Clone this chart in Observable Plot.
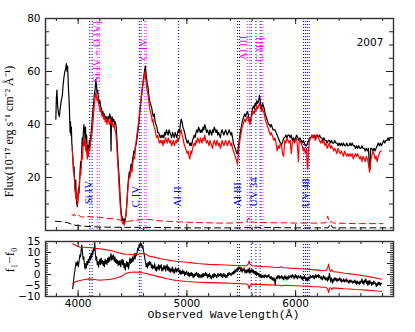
<!DOCTYPE html>
<html>
<head>
<meta charset="utf-8">
<script src="https://cdn.jsdelivr.net/npm/d3@7"></script>
<script src="https://cdn.jsdelivr.net/npm/@observablehq/plot@0.6"></script>
<style>
  html, body { margin: 0; padding: 0; background: #fff; }
  #chart { position: relative; width: 415px; height: 332px; }
  #chart svg { display: block; }
</style>
</head>
<body>
<div id="chart"></div>
<script>
// ---------------- DATA ----------------
const xDomain = [3700, 6900];
const topYDomain = [0, 80];
const botYDomain = [-10, 15];
const xMajorTicks = [4000, 5000, 6000];
const topYMajorTicks = [20, 40, 60, 80];
const botYMajorTicks = [-10, -5, 0, 5, 10, 15];
const yearLabel = "2007";
const yearPos = [6684, 70.9];

// black spectrum [wavelength, flux]
const blackSpec = [[3795,42],[3800,50],[3805,53],[3812,47],[3820,44],[3828,43],[3835,46],[3845,49],[3855,51],[3862,55],[3870,58],[3878,60],[3885,61],[3892,63],[3898,60],[3903,62],[3908,57],[3913,52],[3918,48],[3922,43],[3926,37],[3930,41],[3934,36],[3938,39],[3942,33],[3948,30],[3953,26],[3958,22],[3963,24],[3968,18],[3973,15],[3978,19],[3983,12],[3988,10],[3993,9],[3998,13],[4003,16],[4008,14],[4013,18],[4018,22],[4023,26],[4028,24],[4033,30],[4038,35],[4043,32],[4048,37],[4053,40],[4058,38],[4063,35],[4068,39],[4073,33],[4078,36],[4083,31],[4088,28],[4093,32],[4098,30],[4103,34],[4110,32],[4117,36],[4123,38],[4130,42],[4137,46],[4143,48],[4150,52],[4156,53],[4162,57],[4168,55],[4174,52],[4180,53],[4186,50],[4193,48],[4200,49],[4207,47],[4214,46],[4221,44],[4228,45],[4235,43],[4242,44],[4250,42],[4258,43],[4266,41],[4275,43],[4283,42],[4290,44],[4297,43],[4303,30],[4306,41],[4312,43],[4320,41],[4328,42],[4335,40],[4342,41],[4350,39],[4356,35],[4362,30],[4368,26],[4374,22],[4380,18],[4386,13],[4392,9],[4398,6],[4404,5],[4410,4],[4416,3.5],[4422,4.5],[4428,3],[4434,4],[4440,6],[4446,9],[4452,13],[4458,17],[4464,20],[4470,22],[4476,21],[4482,24],[4488,25],[4494,23],[4500,27],[4506,28],[4512,30],[4518,29],[4524,31],[4530,32],[4536,33],[4545,36],[4552,38],[4560,41],[4568,45],[4576,48],[4584,51],[4592,54],[4600,57],[4607,59],[4613,61],[4619,62],[4625,59],[4631,57],[4637,55],[4643,54],[4650,51],[4657,49],[4664,48],[4671,47],[4678,46],[4685,44],[4692,43],[4700,44],[4708,41],[4716,40],[4724,39],[4732,37],[4740,37],[4748,36],[4756,35],[4764,36],[4772,35],[4780,36],[4788,35],[4796,37],[4804,36],[4812,38],[4820,37],[4828,36],[4836,38],[4844,37],[4852,36],[4860,35],[4868,37],[4876,36],[4884,35],[4892,37],[4900,36],[4908,35],[4916,37],[4924,38],[4932,37],[4940,40],[4948,42],[4956,41],[4964,39],[4972,38],[4980,37],[4988,35],[4996,34],[5004,33],[5012,34],[5020,33],[5028,32],[5036,33],[5044,32],[5052,34],[5060,35],[5068,36],[5076,35],[5084,37],[5092,38],[5100,37],[5108,39],[5116,38],[5124,37],[5132,38],[5140,37],[5148,39],[5156,38],[5164,40],[5172,39],[5180,37],[5188,38],[5196,37],[5204,36],[5212,38],[5220,37],[5228,36],[5236,38],[5244,37],[5252,39],[5260,38],[5268,37],[5276,38],[5284,36],[5292,37],[5300,36],[5308,35],[5316,37],[5324,38],[5332,37],[5340,36],[5348,37],[5356,38],[5364,37],[5372,36],[5380,37],[5388,38],[5396,37],[5404,36],[5412,37],[5420,35],[5428,33],[5436,32],[5444,31],[5452,30],[5460,29],[5466,29],[5472,31],[5478,33],[5484,35],[5492,37],[5500,39],[5508,41],[5516,42],[5524,43],[5532,44],[5540,43],[5548,44],[5556,45],[5564,44],[5572,42],[5580,41],[5588,42],[5596,44],[5604,46],[5612,47],[5620,46],[5628,48],[5636,47],[5644,49],[5652,48],[5660,49],[5668,51],[5674,49],[5680,47],[5688,46],[5696,48],[5704,47],[5712,46],[5720,44],[5728,43],[5736,42],[5744,41],[5752,40],[5760,40],[5768,39],[5776,40],[5784,39],[5792,38],[5800,38],[5810,38],[5820,37],[5830,36],[5840,35],[5850,34],[5860,33],[5868,32],[5876,33],[5884,34],[5892,35],[5900,35],[5910,36],[5920,35],[5930,36],[5940,36],[5950,35],[5960,36],[5970,34],[5980,35],[5990,34],[6000,35],[6010,36],[6020,35],[6030,34],[6040,35],[6050,34],[6060,33],[6070,34],[6080,33],[6090,32],[6100,32],[6110,33],[6120,34],[6130,35],[6140,35],[6150,36],[6160,35],[6170,36],[6180,35],[6190,36],[6200,36],[6210,35],[6220,36],[6230,35],[6240,35],[6250,34],[6260,35],[6270,34],[6280,34],[6290,33],[6300,34],[6310,34],[6320,33],[6330,34],[6340,33],[6350,33],[6360,34],[6370,33],[6380,33],[6390,32],[6400,33],[6410,32],[6420,33],[6430,32],[6440,33],[6450,32],[6460,32],[6470,33],[6480,32],[6490,32],[6500,33],[6510,32],[6520,33],[6530,32],[6540,32],[6550,31],[6560,32],[6570,31],[6580,32],[6590,31],[6600,31],[6610,32],[6620,31],[6630,31],[6640,30],[6650,31],[6660,30],[6670,31],[6678,24],[6684,23],[6690,31],[6700,31],[6710,30],[6720,31],[6730,30],[6740,31],[6750,32],[6760,33],[6770,32],[6780,33],[6790,32],[6800,33],[6810,34],[6820,33],[6830,34],[6840,34],[6850,35],[6860,34],[6870,35],[6880,35],[6890,35]];

// red spectrum [wavelength, flux]
const redSpec = [[3945,31],[3950,28],[3955,25],[3960,22],[3965,20],[3970,17],[3975,14],[3980,12],[3985,15],[3990,11],[3995,10],[4000,12],[4005,15],[4010,17],[4015,20],[4020,23],[4025,21],[4030,25],[4035,29],[4040,27],[4045,31],[4050,34],[4055,32],[4060,35],[4065,33],[4070,30],[4075,33],[4080,29],[4085,27],[4090,30],[4095,28],[4100,31],[4107,30],[4114,33],[4121,35],[4128,37],[4135,40],[4142,44],[4149,47],[4156,50],[4162,52],[4168,51],[4174,49],[4180,50],[4187,48],[4194,47],[4201,45],[4208,46],[4215,44],[4222,43],[4229,44],[4236,42],[4243,43],[4250,41],[4258,42],[4266,40],[4274,42],[4282,41],[4290,40],[4298,42],[4306,40],[4314,41],[4322,39],[4330,40],[4338,38],[4346,37],[4352,34],[4358,30],[4364,26],[4370,22],[4376,17],[4382,13],[4388,9],[4394,6],[4400,4],[4406,3],[4412,2.5],[4418,3],[4424,2],[4430,3],[4436,5],[4442,7],[4448,10],[4454,14],[4460,17],[4466,19],[4472,21],[4478,20],[4484,23],[4490,24],[4496,22],[4502,25],[4508,27],[4514,28],[4520,27],[4526,31],[4532,33],[4540,36],[4548,38],[4556,41],[4564,44],[4572,47],[4580,50],[4588,53],[4596,55],[4604,57],[4610,59],[4616,60],[4622,57],[4628,55],[4634,53],[4640,52],[4646,50],[4652,48],[4658,46],[4664,45],[4670,44],[4676,43],[4682,41],[4688,42],[4694,40],[4700,39],[4708,38],[4716,36],[4724,35],[4732,36],[4740,34],[4748,33],[4756,34],[4764,33],[4772,34],[4780,32],[4788,34],[4796,33],[4804,35],[4812,34],[4820,33],[4828,35],[4836,34],[4844,33],[4852,34],[4860,32],[4868,33],[4876,34],[4884,32],[4892,33],[4900,34],[4908,33],[4916,35],[4924,34],[4932,35],[4940,37],[4948,38],[4956,36],[4964,35],[4972,33],[4980,32],[4988,31],[4996,30],[5004,29],[5012,30],[5020,28],[5028,27],[5036,30],[5044,29],[5052,31],[5060,32],[5068,33],[5076,32],[5084,34],[5092,33],[5100,35],[5108,34],[5116,33],[5124,35],[5132,34],[5140,33],[5148,35],[5156,34],[5164,36],[5172,34],[5180,33],[5188,34],[5196,33],[5204,32],[5212,34],[5220,33],[5228,32],[5236,31],[5244,33],[5252,34],[5260,33],[5268,32],[5276,34],[5284,33],[5292,32],[5300,33],[5308,31],[5316,32],[5324,34],[5332,33],[5340,32],[5348,33],[5356,34],[5364,33],[5372,32],[5380,33],[5388,34],[5396,33],[5404,32],[5412,33],[5420,31],[5428,30],[5436,29],[5444,28],[5452,27],[5460,26],[5466,25],[5472,28],[5478,31],[5484,33],[5492,35],[5500,37],[5508,39],[5516,40],[5524,41],[5532,42],[5540,41],[5548,42],[5556,43],[5564,42],[5572,41],[5580,40],[5588,41],[5596,43],[5604,44],[5612,45],[5620,44],[5628,46],[5636,45],[5644,47],[5652,46],[5660,47],[5668,48],[5674,47],[5680,46],[5688,45],[5696,46],[5704,45],[5712,44],[5720,42],[5728,41],[5736,40],[5744,39],[5752,38],[5760,37],[5768,36],[5776,37],[5784,36],[5792,35],[5800,34],[5810,35],[5820,33],[5830,30],[5840,32],[5850,31],[5860,33],[5870,32],[5880,29],[5890,28],[5900,34],[5910,33],[5920,35],[5930,34],[5940,33],[5950,34],[5960,29],[5970,33],[5980,34],[5990,33],[6000,34],[6010,35],[6020,30],[6026,26],[6032,33],[6040,34],[6050,33],[6060,32],[6070,30],[6080,31],[6090,29],[6100,31],[6106,25],[6112,23],[6118,30],[6125,33],[6130,34],[6140,35],[6150,36],[6160,35],[6170,36],[6180,34],[6190,35],[6200,36],[6210,35],[6220,34],[6230,33],[6240,34],[6250,33],[6260,34],[6270,32],[6280,33],[6290,31],[6300,32],[6310,33],[6320,31],[6330,32],[6340,31],[6350,30],[6360,31],[6370,30],[6380,29],[6390,31],[6400,30],[6410,29],[6420,30],[6430,29],[6440,28],[6450,30],[6460,29],[6470,28],[6480,29],[6490,28],[6500,29],[6510,28],[6520,29],[6530,27],[6540,28],[6550,29],[6560,28],[6570,29],[6580,28],[6590,27],[6600,28],[6610,26],[6620,28],[6630,27],[6640,26],[6650,28],[6660,27],[6670,25],[6680,22],[6690,26],[6700,28],[6710,30],[6720,29],[6730,27],[6740,28],[6750,26],[6760,28],[6770,29],[6780,30],[6790,30]];

// dashed error spectra [wavelength, flux]
const redErr = [[3945,6],[3955,5.5],[3965,6.2],[3975,5.6],[3990,5.2],[4005,5.8],[4020,5.3],[4040,5.0],[4060,5.4],[4080,5.1],[4100,5.3],[4130,5.0],[4160,5.2],[4190,4.8],[4220,4.9],[4260,4.6],[4300,4.5],[4340,4.3],[4380,4.0],[4420,3.6],[4450,3.4],[4480,3.6],[4520,3.8],[4560,4.0],[4600,4.3],[4640,4.2],[4680,4.0],[4720,3.8],[4760,3.6],[4800,3.5],[4850,3.4],[4900,3.3],[4950,3.2],[5000,3.1],[5100,3.0],[5200,2.9],[5300,2.8],[5400,2.8],[5450,2.9],[5500,3.0],[5550,3.2],[5570,4.8],[5580,3.3],[5620,3.1],[5700,3.0],[5800,2.9],[5900,2.9],[6000,2.8],[6100,2.8],[6200,2.8],[6280,2.9],[6295,5.5],[6310,3.0],[6330,3.4],[6350,2.8],[6450,2.7],[6550,2.6],[6650,2.6],[6750,2.6],[6800,2.6]];
const blackErr = [[3790,3.5],[3850,3.3],[3900,3.0],[3950,2.2],[4000,1.8],[4100,1.5],[4200,1.3],[4400,1.2],[4600,1.2],[5000,1.0],[5500,1.0],[5600,1.2],[6000,1.0],[6300,1.0],[6320,2.5],[6340,1.0],[6890,1.0]];

// difference spectrum f1 - f0 [wavelength, value]
const diffSpec = [[3950,-6.5],[3958,-3],[3965,0.3],[3972,2.5],[3980,5.5],[3987,4],[3995,6],[4002,3.5],[4010,6.5],[4016,9],[4022,8],[4028,11],[4034,13.5],[4040,10],[4046,7],[4052,8],[4058,4.5],[4064,2.5],[4070,5],[4076,3],[4082,6],[4088,4.5],[4094,7],[4100,5.5],[4106,8],[4112,6.5],[4118,9.5],[4124,7.5],[4130,10.5],[4136,9],[4142,12],[4148,11],[4153,14.7],[4158,10],[4164,6.5],[4170,8],[4176,4.5],[4182,6],[4188,3.3],[4194,5.5],[4200,7],[4206,4.5],[4212,7.5],[4218,5],[4224,6.5],[4230,4],[4236,6],[4242,3.5],[4248,7],[4254,5],[4260,6.5],[4266,4.5],[4272,7.5],[4278,5.5],[4284,8],[4290,6],[4296,7.5],[4302,9.5],[4308,6.5],[4314,8.5],[4320,7],[4326,9],[4332,6],[4338,8],[4344,5.5],[4350,7],[4356,5],[4362,6.5],[4368,4],[4374,6],[4380,4.5],[4386,6.5],[4392,3.5],[4398,5.5],[4404,7],[4410,4.5],[4416,6.5],[4422,3],[4428,5],[4434,2],[4440,4.5],[4446,6],[4452,3.5],[4458,5.5],[4464,2.5],[4470,5],[4476,7.5],[4482,5],[4488,7],[4494,5.5],[4500,8],[4506,6],[4512,7.5],[4518,9.5],[4524,7],[4530,9.5],[4536,8.5],[4542,10],[4548,12],[4554,11],[4560,13.5],[4566,12.5],[4572,14.5],[4578,13],[4584,14],[4590,12],[4596,13],[4602,10.5],[4608,9],[4614,7],[4620,5.5],[4626,3.5],[4632,5],[4638,3],[4644,5.5],[4650,4],[4656,6],[4662,4.5],[4668,5.5],[4674,3],[4680,4.5],[4686,2.5],[4692,4],[4698,3],[4704,5],[4710,2],[4716,3.5],[4722,1.5],[4728,3.5],[4734,2.5],[4740,4.5],[4746,2],[4752,4],[4758,3],[4764,4.5],[4770,1.5],[4776,3],[4782,2],[4788,4],[4794,2.5],[4800,4],[4806,1.5],[4812,3.5],[4818,4.5],[4824,2],[4830,3.5],[4836,1.5],[4842,3],[4848,1],[4854,2.5],[4860,1.5],[4866,3.5],[4872,1],[4878,2.5],[4884,0.5],[4890,2],[4896,3],[4902,1],[4908,2.5],[4914,1.5],[4920,3],[4926,2.5],[4932,0.5],[4938,2],[4944,0],[4950,1.5],[4956,0.3],[4962,2],[4968,0.5],[4974,1.5],[4980,-0.5],[4986,1],[4992,0],[4998,1.5],[5004,0.5],[5010,-0.5],[5016,1],[5022,-1],[5028,0.5],[5034,-0.5],[5040,1],[5046,-0.5],[5052,0.5],[5058,-1.5],[5064,0],[5070,-1],[5076,0.5],[5082,-0.5],[5088,1],[5094,0.3],[5100,-1],[5106,0.5],[5112,-1.5],[5118,0],[5124,-0.5],[5130,-1.5],[5136,0],[5142,-1.2],[5148,0.5],[5154,-1],[5160,0.3],[5166,-0.5],[5172,1],[5178,-0.5],[5184,0.3],[5190,-1.5],[5196,0],[5202,-1],[5208,0.5],[5214,-1.5],[5220,-0.5],[5226,-2],[5232,-1],[5238,0],[5244,-1.5],[5250,0.5],[5256,-1],[5262,0],[5268,-0.5],[5274,-1.5],[5280,-0.5],[5286,0.5],[5292,-1],[5298,0],[5304,-0.5],[5310,0.5],[5316,-1],[5322,0.3],[5328,-1.5],[5334,-0.5],[5340,0.5],[5346,-1],[5352,0],[5358,-1.5],[5364,-0.5],[5370,-1.2],[5376,0.5],[5382,-0.5],[5388,1],[5394,0],[5400,0.5],[5406,-0.5],[5412,0.3],[5418,1],[5424,0],[5430,1.5],[5436,0.5],[5442,2],[5448,1],[5454,2.5],[5460,1.5],[5466,3],[5472,2],[5478,3.5],[5484,2.5],[5490,3.3],[5496,1.5],[5502,3],[5508,1],[5514,2.5],[5520,1.8],[5526,3],[5532,1],[5538,2],[5544,0.5],[5550,2],[5556,1],[5562,2.5],[5568,1],[5574,3],[5580,0.5],[5586,2],[5592,1],[5598,2.5],[5604,1],[5610,2],[5616,0.5],[5622,1.5],[5628,0],[5634,1.5],[5640,-0.5],[5646,1],[5652,0],[5658,0.5],[5664,-1],[5670,0.3],[5676,-1],[5682,0],[5688,-1.5],[5694,-0.5],[5700,-1.2],[5706,-0.5],[5712,-1.5],[5718,0],[5724,-1],[5730,-0.5],[5736,-1.5],[5742,-0.5],[5748,-1],[5754,0],[5760,-1.5],[5766,-1],[5772,-2],[5778,-1],[5784,-2.5],[5790,-1.5],[5796,-2.7],[5802,-1.5],[5808,-3],[5812,-5],[5818,-2],[5824,-1],[5830,-2],[5836,-0.5],[5842,-1.5],[5848,-0.5],[5854,-2],[5860,-1],[5866,-1.5],[5872,-0.5],[5878,-2],[5884,-1],[5890,-2.5],[5896,-1.5],[5902,-0.5],[5908,-2],[5914,-1],[5920,-2.5],[5926,-1],[5932,-2],[5938,-0.5],[5944,-1.5],[5950,-1],[5956,-0.5],[5962,-1.5],[5968,0],[5974,-1],[5980,-0.5],[5986,-2],[5992,-1],[5998,0],[6004,-1.5],[6010,-0.5],[6016,-2],[6022,-1],[6028,-0.5],[6034,-1.5],[6040,-1.2],[6046,-0.5],[6052,-2],[6058,-1],[6064,-2.5],[6070,-1],[6076,-2],[6082,-0.5],[6088,-1.5],[6094,-2.5],[6100,-1.5],[6106,-3],[6112,-1.5],[6118,-2.5],[6124,-1],[6130,-2],[6136,-0.5],[6142,-1.5],[6148,-1],[6154,-0.5],[6160,-1.5],[6166,-0.5],[6172,-2],[6178,-1],[6184,0],[6190,-1.5],[6196,-0.5],[6202,-1],[6208,0],[6214,-1.5],[6220,-0.5],[6226,-1],[6232,-2],[6238,-1],[6244,-2.5],[6250,-1.5],[6256,-0.5],[6262,-2],[6268,-1],[6274,-2.5],[6280,-1.5],[6286,-2],[6292,-3],[6298,-1],[6304,-2.5],[6310,0.5],[6316,-1],[6322,-3.5],[6328,-1.5],[6334,-2.5],[6340,-4],[6346,-2],[6352,-3],[6358,-1.5],[6364,-2.5],[6370,-1.5],[6376,-3],[6382,-2],[6388,-3],[6394,-2],[6400,-2.5],[6406,-1.5],[6412,-3],[6418,-2],[6424,-3.5],[6430,-2.5],[6436,-3],[6442,-2],[6448,-3.5],[6454,-2.5],[6460,-3],[6466,-2],[6472,-3.5],[6478,-2.5],[6484,-3],[6490,-4],[6496,-2.5],[6502,-3.5],[6508,-2.5],[6514,-3.5],[6520,-3],[6526,-4],[6532,-3],[6538,-3.5],[6544,-2.5],[6550,-4],[6556,-3],[6562,-4.5],[6568,-3],[6574,-4],[6580,-3.5],[6586,-4.5],[6592,-3],[6598,-4],[6604,-3],[6610,-2],[6616,-4],[6622,-3],[6628,-4.5],[6634,-2.5],[6640,-3.5],[6646,-2],[6652,-4],[6658,-3],[6664,-5],[6670,-3],[6676,-4.5],[6682,-2.5],[6688,-4],[6694,-3.5],[6700,-5],[6706,-3.5],[6712,-4.5],[6718,-3],[6724,-4],[6730,-3.5],[6736,-4.5],[6742,-5.5],[6748,-4],[6754,-5],[6760,-3.5],[6766,-4.5],[6772,-3.5],[6778,-5],[6784,-4],[6790,-4.2]];

// envelope (upper / lower) [wavelength, value]
const envUpper = [[3950,14],[3990,13],[4020,12.4],[4060,12.4],[4100,12.3],[4150,11.9],[4200,11.7],[4250,11.3],[4300,10.9],[4350,10.2],[4400,9.5],[4450,9.2],[4500,9.0],[4540,9.0],[4570,9.4],[4600,9.5],[4620,9.3],[4650,8.4],[4700,7.9],[4750,7.3],[4800,6.8],[4850,6.4],[4900,6.0],[4950,5.8],[5000,5.6],[5050,5.3],[5100,5.0],[5150,4.8],[5200,4.6],[5250,4.5],[5300,4.4],[5350,4.3],[5400,4.2],[5450,4.1],[5500,4.0],[5550,4.0],[5565,4.8],[5572,6.2],[5580,4.8],[5600,4.0],[5650,3.8],[5700,3.6],[5750,3.5],[5800,3.3],[5850,3.2],[5870,3.5],[5890,3.1],[5950,2.9],[6000,2.8],[6050,2.6],[6100,2.4],[6150,2.2],[6200,2.0],[6250,1.8],[6280,1.8],[6295,3.0],[6303,4.8],[6311,2.5],[6320,1.4],[6335,2.2],[6345,1.3],[6400,1.0],[6450,0.6],[6500,0.3],[6550,0],[6600,-0.4],[6650,-0.8],[6700,-1.2],[6750,-1.7],[6790,-2.2]];
const envLower = [[3950,-4.2],[3980,-3.2],[4020,-2.7],[4060,-2.3],[4100,-2.0],[4150,-2.3],[4200,-2.6],[4250,-2.4],[4300,-2.2],[4350,-1.6],[4400,-0.8],[4440,0.5],[4480,1.0],[4520,1.1],[4560,1.0],[4600,0.7],[4640,0.3],[4700,-0.5],[4760,-1.2],[4820,-1.9],[4900,-2.7],[5000,-3.2],[5100,-3.5],[5200,-3.7],[5300,-3.8],[5400,-4.0],[5500,-4.2],[5550,-4.3],[5565,-5.0],[5572,-6.5],[5580,-5.0],[5600,-4.4],[5650,-4.5],[5700,-4.6],[5750,-4.7],[5800,-4.8],[5850,-4.9],[5870,-5.2],[5890,-4.9],[5950,-5.0],[6000,-5.1],[6050,-5.2],[6100,-5.3],[6150,-5.5],[6200,-5.6],[6250,-5.8],[6280,-5.8],[6295,-6.6],[6303,-8.2],[6311,-6.4],[6320,-6.0],[6335,-6.8],[6345,-6.1],[6400,-6.3],[6450,-6.5],[6500,-6.6],[6550,-6.8],[6600,-6.9],[6650,-7.1],[6700,-7.3],[6750,-7.5],[6790,-7.6]];

// line markers (wavelengths)
const absLines = [4107, 4129, 4563, 4579, 4924, 5466, 5484, 5592, 5635, 5674, 6072, 6090, 6108, 6125];
const emisLines = [3703, 4175, 4195, 4612, 4627, 5558, 5576, 5686, 5700];

// line labels
const emisLabels = ["Si IV + O IV]", "C IV", "Al III", "C III]"];
const emisLabelX = [4166, 4603, 5521, 5670];
const emisLabelY = [67.5, 68.3, 68.9, 68.3];
const absLabels = ["Si IV", "C IV", "Al II", "Al III", "UV 34", "UV 48"];
const absLabelX = [4099, 4529, 4917, 5463, 5616, 6092];
const absLabelY = [14.3, 12.8, 12.8, 13.6, 14.5, 14.2];

const topYLabel = "Flux(10\u207B\u00B9\u2077 erg s\u207B\u00B9 cm\u207B\u00B2 \u00C5\u207B\u00B9)";
const botYLabel = "f\u2081\u2212f\u2080";
const xLabel = "Observed Wavelength(\u00C5)";

// ---------------- LAYOUT ----------------
const W = 415;
const mL = 45, mR = 22;
const TOP = {h: 236, mt: 18, mb: 6};
const BOT = {h: 96, mt: 5, mb: 36};
const BLUE = "#0000ff", MAG = "#ff00ff", RED = "#ff0000";
const sans = "DejaVu Sans", serif = "Liberation Serif", mono = "Liberation Mono";
const DOT = "1,2";

const xMinorTicks = d3.range(3800, 6900, 200);

function frameTicks(yDom, frameH, yMinor, yMajor, xMaj, xMin, yMaj, yMin) {
  const fw = W - mL - mR;
  const ky = (yDom[1] - yDom[0]) / frameH;  // data per px
  const kx = (xDomain[1] - xDomain[0]) / fw;
  const st = {stroke: "#222", strokeWidth: 1};
  const xt = (ticks, len) => [
    Plot.ruleX(ticks, {x: d => d, y1: yDom[0], y2: yDom[0] + len * ky, ...st}),
    Plot.ruleX(ticks, {x: d => d, y1: yDom[1], y2: yDom[1] - len * ky, ...st})
  ];
  const yt = (ticks, len) => [
    Plot.ruleY(ticks, {y: d => d, x1: xDomain[0], x2: xDomain[0] + len * kx, ...st}),
    Plot.ruleY(ticks, {y: d => d, x1: xDomain[1], x2: xDomain[1] - len * kx, ...st})
  ];
  return [...xt(xMinorTicks, xMin), ...xt(xMajorTicks, xMaj), ...yt(yMinor, yMin), ...yt(yMajor, yMaj)];
}

const px = d => d[0], py = d => d[1];

const topPlot = Plot.plot({
  width: W, height: TOP.h,
  marginTop: TOP.mt, marginBottom: TOP.mb, marginLeft: mL, marginRight: mR,
  x: {domain: xDomain, axis: null},
  y: {domain: topYDomain},
  style: {fontFamily: sans, fontSize: "10.5px", background: "transparent", overflow: "visible"},
  marks: [
    Plot.ruleX(absLines, {x: d => d, stroke: BLUE, strokeWidth: 1, strokeDasharray: DOT}),
    Plot.ruleX(emisLines, {x: d => d, stroke: MAG, strokeWidth: 1, strokeDasharray: DOT, strokeOpacity: 0.85}),
    Plot.line(blackErr, {x: px, y: py, stroke: "black", strokeWidth: 1, strokeDasharray: "6,4"}),
    Plot.line(redErr, {x: px, y: py, stroke: RED, strokeWidth: 1, strokeDasharray: "6,4"}),
    Plot.line(blackSpec, {x: px, y: py, stroke: "black", strokeWidth: 1.2}),
    Plot.line(redSpec, {x: px, y: py, stroke: RED, strokeWidth: 1.2}),
    Plot.text(emisLabels, {x: (d, i) => emisLabelX[i], y: (d, i) => emisLabelY[i], text: d => d, rotate: -90, fill: MAG, fontFamily: serif, fontSize: 11}),
    Plot.text(absLabels, {x: (d, i) => absLabelX[i], y: (d, i) => absLabelY[i], text: d => d, rotate: -90, fill: BLUE, fontFamily: serif, fontSize: 11}),
    Plot.text([yearLabel], {x: yearPos[0], y: yearPos[1], text: d => d, fill: "black", fontFamily: sans, fontSize: 10.5}),
    ...frameTicks(topYDomain, TOP.h - TOP.mt - TOP.mb, d3.range(5, 80, 5), topYMajorTicks, 6, 3, 7, 4),
    Plot.axisY({ticks: topYMajorTicks, tickSize: 0, tickPadding: 5, label: null, fontSize: 10.5}),
    Plot.text([topYLabel], {frameAnchor: "left", textAnchor: "middle", dx: -36, dy: 7, rotate: -90, text: d => d, fontFamily: serif, fontSize: 12, fill: "black"}),
    Plot.frame({stroke: "#333", strokeWidth: 1.4})
  ]
});

const botPlot = Plot.plot({
  width: W, height: BOT.h,
  marginTop: BOT.mt, marginBottom: BOT.mb, marginLeft: mL, marginRight: mR,
  x: {domain: xDomain},
  y: {domain: botYDomain},
  style: {fontFamily: sans, fontSize: "10.5px", background: "transparent", overflow: "visible"},
  marks: [
    Plot.ruleX(absLines, {x: d => d, stroke: BLUE, strokeWidth: 1, strokeDasharray: DOT}),
    Plot.line(diffSpec, {x: px, y: py, stroke: "black", strokeWidth: 1.1}),
    Plot.line(envUpper, {x: px, y: py, stroke: RED, strokeWidth: 1.1}),
    Plot.line(envLower, {x: px, y: py, stroke: RED, strokeWidth: 1.1}),
    ...frameTicks(botYDomain, BOT.h - BOT.mt - BOT.mb, d3.range(-9, 15, 1), botYMajorTicks, 6, 3, 6, 3),
    Plot.axisY({ticks: botYMajorTicks, tickSize: 0, tickPadding: 5, label: null, fontSize: 10.5}),
    Plot.axisX({anchor: "bottom", ticks: xMajorTicks, tickSize: 0, tickPadding: 3, label: null, fontSize: 10.5, tickFormat: d => String(d)}),
    Plot.text([xLabel], {frameAnchor: "bottom", dx: 4, dy: 21, text: d => d, fontFamily: mono, fontSize: 11.5, fill: "black"}),
    Plot.text([botYLabel], {frameAnchor: "left", textAnchor: "middle", dx: -36, dy: -9, rotate: -90, text: d => d, fontFamily: serif, fontSize: 13, fill: "black"}),
    Plot.frame({stroke: "#333", strokeWidth: 1.4})
  ]
});

const chart = document.getElementById("chart");
chart.appendChild(topPlot);
chart.appendChild(botPlot);
</script>
</body>
</html>
